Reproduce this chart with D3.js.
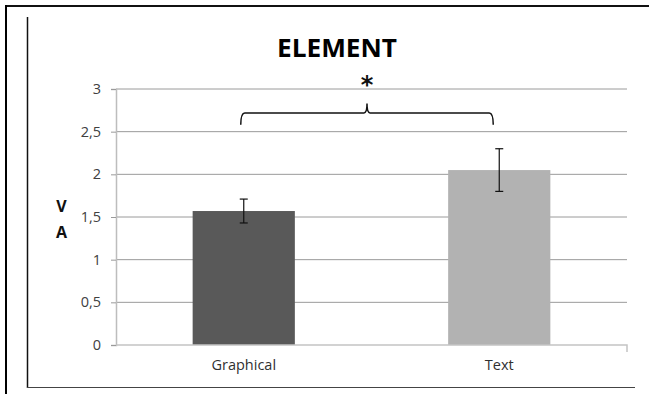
<!DOCTYPE html>
<html><head><meta charset="utf-8">
<script src="https://cdn.jsdelivr.net/npm/d3@7"></script>
<style>body{margin:0;background:#fff}svg{display:block}</style>
</head><body>
<script>
const categories = ["Graphical", "Text"];
const means = [1.57, 2.05];
const errors = [0.14, 0.25];
const yTicks = [0, 0.5, 1, 1.5, 2, 2.5, 3];
const yTickLabels = ["0", "0,5", "1", "1,5", "2", "2,5", "3"];
const barColors = ["#595959", "#b2b2b2"];
const title = "ELEMENT";
const yAxisLabel = ["V", "A"];
const sigLabel = "*";

const W = 649, H = 394;
const svg = d3.select("body").append("svg").attr("width", W).attr("height", H);

// frame lines
svg.append("line").attr("x1", 5).attr("x2", 649).attr("y1", 6).attr("y2", 6).attr("stroke", "#111").attr("stroke-width", 2);
svg.append("line").attr("x1", 6).attr("x2", 6).attr("y1", 5).attr("y2", 394).attr("stroke", "#000").attr("stroke-width", 2);
svg.append("line").attr("x1", 27.5).attr("x2", 27.5).attr("y1", 17).attr("y2", 388).attr("stroke", "#111").attr("stroke-width", 1.5);
svg.append("line").attr("x1", 27).attr("x2", 635).attr("y1", 387.5).attr("y2", 387.5).attr("stroke", "#444").attr("stroke-width", 1.2);

const x = d3.scaleBand().domain(categories).range([116, 627]).paddingInner(0.6).paddingOuter(0.3);
const y = d3.scaleLinear().domain([0, 3]).range([345, 89]);

// gridlines
svg.append("g").selectAll("line").data(yTicks.filter(d => d > 0)).join("line")
  .attr("x1", 116).attr("x2", 627).attr("y1", d => y(d)).attr("y2", d => y(d))
  .attr("stroke", "#9a9a9a").attr("stroke-width", 1);

// y axis
const yAxis = d3.axisLeft(y).tickValues(yTicks).tickSize(5).tickFormat((d, i) => yTickLabels[i]);
const gy = svg.append("g").attr("transform", "translate(116,0)").call(yAxis)
  .attr("font-size", null).attr("font-family", null);
gy.select(".domain").attr("stroke", "#bdbdbd").attr("stroke-width", 1.5);
gy.selectAll(".tick line").attr("stroke", "#9a9a9a");
gy.selectAll(".tick text").attr("fill", "#404040").style("font-family", "'Open Sans'").style("font-size", "14.5px").attr("x", -15);

// bars
svg.append("g").selectAll("rect").data(categories).join("rect")
  .attr("x", d => x(d)).attr("width", x.bandwidth())
  .attr("y", (d, i) => y(means[i])).attr("height", (d, i) => y(0) - y(means[i]))
  .attr("fill", (d, i) => barColors[i]);

// x axis
const xAxis = d3.axisBottom(x).tickSize(0).tickPadding(15);
const gx = svg.append("g").attr("transform", "translate(0,345)").call(xAxis)
  .attr("font-size", null).attr("font-family", null);
gx.select(".domain").attr("stroke", "#c4c4c4").attr("stroke-width", 1.5).attr("d", "M116,0H627V7");
gx.selectAll(".tick text").attr("fill", "#303030").style("font-family", "'Open Sans'").style("font-size", "14.5px");

// error bars
const eg = svg.append("g").attr("stroke", "#111").attr("stroke-width", 1.2);
categories.forEach((c, i) => {
  const cx = x(c) + x.bandwidth() / 2;
  const t = y(means[i] + errors[i]), b = y(means[i] - errors[i]);
  eg.append("line").attr("x1", cx).attr("x2", cx).attr("y1", t).attr("y2", b);
  eg.append("line").attr("x1", cx - 4).attr("x2", cx + 4).attr("y1", t).attr("y2", t);
  eg.append("line").attr("x1", cx - 4).attr("x2", cx + 4).attr("y1", b).attr("y2", b);
});

// significance bracket
const xl = x(categories[0]) + x.bandwidth() / 2 - 3;
const xr = x(categories[1]) + x.bandwidth() / 2 - 6;
const xm = (xl + xr) / 2;
const yb = y(2.72), ye = y(2.58), yt = y(2.83);
const p = d3.path();
p.moveTo(xl, ye);
p.quadraticCurveTo(xl, yb, xl + 4, yb);
p.lineTo(xm - 3, yb);
p.quadraticCurveTo(xm, yb, xm, yt);
p.quadraticCurveTo(xm, yb, xm + 3, yb);
p.lineTo(xr - 4, yb);
p.quadraticCurveTo(xr, yb, xr, ye);
svg.append("path").attr("d", p.toString()).attr("fill", "none").attr("stroke", "#111").attr("stroke-width", 1.5);
svg.append("text").attr("x", xm).attr("y", y(2.95)).attr("text-anchor", "middle")
  .attr("font-family", "DejaVu Sans").attr("font-weight", "bold").attr("font-size", 24).attr("fill", "#111").text(sigLabel);

// title
svg.append("text").attr("x", 337).attr("y", 57).attr("text-anchor", "middle")
  .attr("font-family", "Open Sans").attr("font-weight", "bold").attr("font-size", 25)
  .attr("textLength", 120).attr("lengthAdjust", "spacingAndGlyphs").attr("fill", "#000").text(title);

// y axis label (stacked letters)
svg.append("g").selectAll("text").data(yAxisLabel).join("text")
  .attr("x", 61.5).attr("y", (d, i) => 212 + i * 25.5).attr("text-anchor", "middle")
  .attr("font-family", "Open Sans").attr("font-weight", "bold").attr("font-size", 16).attr("fill", "#111").text(d => d);
</script>
</body></html>
